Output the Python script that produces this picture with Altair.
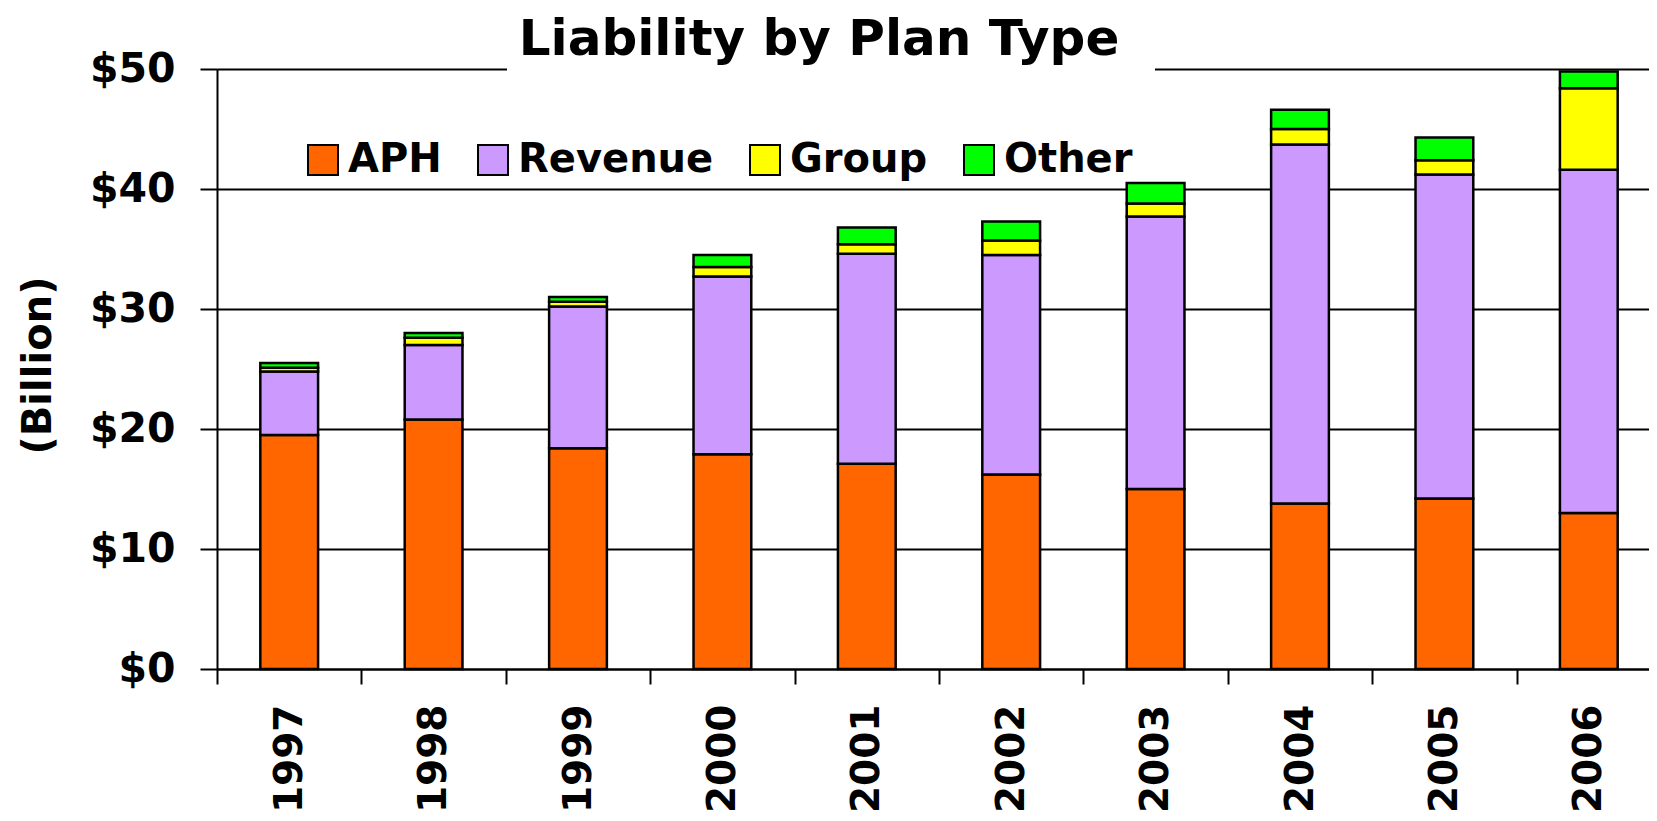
import altair as alt
import pandas as pd

years = ["1997", "1998", "1999", "2000", "2001", "2002", "2003", "2004", "2005", "2006"]
plan_types = ["APH", "Revenue", "Group", "Other"]
aph = [19.5, 20.8, 18.4, 17.9, 17.1, 16.2, 15.0, 13.8, 14.2, 13.0]
revenue = [5.3, 6.2, 11.8, 14.8, 17.5, 18.3, 22.7, 29.9, 27.0, 28.6]
group = [0.3, 0.6, 0.4, 0.8, 0.8, 1.2, 1.1, 1.3, 1.2, 6.8]
other = [0.4, 0.4, 0.4, 1.0, 1.4, 1.6, 1.7, 1.6, 1.9, 1.4]
colors = ["#FF6600", "#CC99FF", "#FFFF00", "#00FF00"]
y_ticks = [0, 10, 20, 30, 40, 50]
title_text = "Liability by Plan Type"
y_title = "(Billion)"

FONT = "DejaVu Sans"

rows = []
for i, y in enumerate(years):
    for j, (t, s) in enumerate(zip(plan_types, [aph, revenue, group, other])):
        rows.append({"Year": y, "Type": t, "Value": s[i], "idx": j})
df = pd.DataFrame(rows)

bars = alt.Chart(df).mark_bar(
    stroke="black", strokeWidth=2.5, width=alt.RelativeBandSize(0.4)
).encode(
    x=alt.X(
        "Year:N",
        sort=years,
        scale=alt.Scale(paddingInner=0, paddingOuter=0),
        axis=alt.Axis(
            title=None,
            labelAngle=-90,
            labelFontSize=39,
            labelFont=FONT,
            labelFontWeight="bold",
            labelColor="black",
            labelPadding=20,
            tickBand="extent",
            tickSize=15,
            tickWidth=2,
            tickColor="black",
            domainColor="black",
            domainWidth=2,
            grid=False,
        ),
    ),
    y=alt.Y(
        "Value:Q",
        stack="zero",
        scale=alt.Scale(domain=[0, 50], nice=False),
        axis=alt.Axis(
            values=y_ticks,
            labelExpr="'$' + datum.value",
            labelFontSize=41,
            labelFont=FONT,
            labelFontWeight="bold",
            labelColor="black",
            labelPadding=25,
            tickSize=17,
            tickWidth=2,
            tickColor="black",
            domainColor="black",
            domainWidth=2,
            grid=True,
            gridColor="black",
            gridWidth=2,
            gridOpacity=1,
            title=y_title,
            titleFont=FONT,
            titleFontSize=40,
            titleFontWeight="bold",
            titleColor="black",
            titleAngle=270,
            titleAlign="center",
            titleBaseline="middle",
            titleX=-179,
            titleY=296,
        ),
    ),
    color=alt.Color(
        "Type:N",
        scale=alt.Scale(domain=plan_types, range=colors),
        legend=alt.Legend(
            title=None,
            orient="none",
            legendX=86,
            legendY=71,
            direction="horizontal",
            symbolType="square",
            symbolSize=900,
            symbolStrokeColor="black",
            symbolStrokeWidth=2,
            symbolOpacity=1,
            labelFont=FONT,
            labelFontSize=40,
            labelFontWeight="bold",
            labelColor="black",
            labelOffset=5,
            labelLimit=0,
            columnPadding=31,
            padding=0,
        ),
    ),
    order=alt.Order("idx:Q", sort="ascending"),
)

title_df = pd.DataFrame({"t": [title_text]})
title_bg = alt.Chart(title_df).mark_rect(color="white").encode(
    x=alt.value(290), x2=alt.value(938), y=alt.value(-60), y2=alt.value(8)
)
title_txt = alt.Chart(title_df).mark_text(
    font=FONT, fontSize=50, fontWeight="bold", color="black", align="center", baseline="alphabetic"
).encode(x=alt.value(602), y=alt.value(-14), text="t:N")

chart = alt.layer(bars, title_bg, title_txt).properties(
    width=1444,
    height=600,
    autosize=alt.AutoSizeParams(type="none"),
    padding={"left": 209, "top": 61, "right": -12, "bottom": 143},
).configure_view(stroke=None).configure(background="white")

chart.save("out.html", embed_options={"renderer": "svg", "actions": False})
